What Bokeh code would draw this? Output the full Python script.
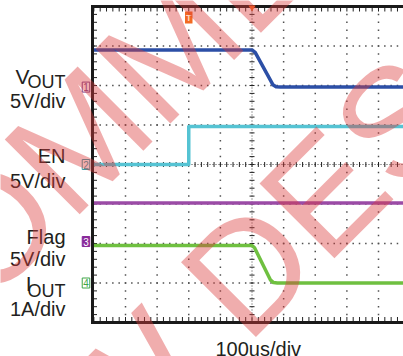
import numpy as np
from bokeh.plotting import figure
from bokeh.models import Label
from bokeh.embed import file_html
from bokeh.resources import INLINE

# ---------------- data (time in us; values in V or A) ----------------
t_vout = [-505, 0, 10, 66, 76, 90, 480]
vout_v = [4.7, 4.7, 4.4, 0.3, 0.05, 0.0, 0.0]
t_en = [-505, -200, -200, 480]
en_v = [0.0, 0.0, 4.8, 4.8]
t_flag = [-505, 480]
flag_v = [4.87, 4.87]
t_iout = [-505, 0, 8, 58, 68, 80, 480]
iout_a = [0.95, 0.95, 0.89, 0.08, 0.01, 0.0, 0.0]

channel_scale = [5.0, 5.0, 5.0, 1.0]        # units per division
channel_offset = [1.96, 0.0, -1.95, -3.0]   # ground level, divisions
channel_colors = ["#2c4fa6", "#55c3d3", "#9b4ba6", "#6fc040"]
marker_texts = ["1", "2", "3", "4"]
marker_colors = ["#7e3e86", "#3a9ca6", "#8a2a9a", "#3fa548"]
marker_filled = [False, False, True, False]
trigger_time = -200
time_per_div = 100
x_label = "100us/div"

# ---------------- layout geometry (canvas pixels) ----------------
W, H = 403, 356
CX, CY = 251.5, 164.0          # screen centre of graticule
PXX, PXY = 31.625, 39.5        # pixels per division


def px2x(px):
    return (px - CX) / PXX * time_per_div


def py2y(py):
    return (CY - py) / PXY


x0, x1 = px2x(0), px2x(W)
y0, y1 = py2y(H), py2y(0)

p = figure(width=W, height=H, x_range=(x0, x1), y_range=(y0, y1),
           output_backend="svg", toolbar_location=None,
           x_axis_location=None, y_axis_location=None,
           min_border_left=0, min_border_right=0,
           min_border_top=0, min_border_bottom=0,
           outline_line_color=None, background_fill_color="white",
           border_fill_color="white")
p.grid.visible = False

# ---------------- graticule ----------------
grid_col = "#505050"
vx = [t for t in range(-400, 401, time_per_div) if t != 0]
ys_fine = np.arange(-4, 3.95, 0.2)
gx, gy = np.meshgrid(vx, ys_fine)
p.scatter(gx.ravel(), gy.ravel(), marker="square", size=1.5,
          fill_color=grid_col, line_color=None)
hy = [y for y in range(-3, 4) if y != 0]
ts_fine = np.arange(-500, 480, 20)
hx, hyy = np.meshgrid(ts_fine, hy)
p.scatter(hx.ravel(), hyy.ravel(), marker="square", size=1.5,
          fill_color=grid_col, line_color=None)

xl, yt, yb = px2x(92), py2y(6), -4.0
# centre lines with ticks
p.line([xl, x1], [0, 0], line_color="#444444", line_width=1, line_dash="1 2")
p.line([0, 0], [yb, yt], line_color="#444444", line_width=1, line_dash="1 2")
p.scatter(np.zeros_like(ys_fine), ys_fine, marker="dash", size=5,
          line_color="#222222", line_width=1)
p.scatter(ts_fine, np.zeros_like(ts_fine, dtype=float), marker="dash", size=5,
          angle=np.pi / 2, line_color="#222222", line_width=1)

# border ticks
p.scatter(np.full_like(ys_fine, px2x(94.5)), ys_fine, marker="dash", size=4,
          line_color="#222222", line_width=1)
p.scatter(ts_fine, np.full(len(ts_fine), py2y(319.0)), marker="dash", size=5,
          angle=np.pi / 2, line_color="#222222", line_width=1)
p.scatter(ts_fine, np.full(len(ts_fine), py2y(9.0)), marker="dash", size=4,
          angle=np.pi / 2, line_color="#222222", line_width=1)

# ---------------- traces ----------------
series_t = [t_vout, t_en, t_flag, t_iout]
series_v = [vout_v, en_v, flag_v, iout_a]
for t, v, sc, off, col in zip(series_t, series_v, channel_scale,
                              channel_offset, channel_colors):
    y = off + np.asarray(v, dtype=float) / sc
    p.line(t, y, line_color=col, line_width=3.5, line_join="round")

# borders (left, top, bottom)
xb0 = px2x(90.5)
p.segment(x0=[xl, xb0, xb0], y0=[py2y(4.5), yt, yb],
          x1=[xl, x1, x1], y1=[py2y(323.5), yt, yb],
          line_color="#1a1a1a", line_width=3)

# trigger markers
p.scatter([0], [py2y(7)], marker="inverted_triangle", size=7,
          fill_color="#f26a22", line_color=None)
p.add_layout(Label(x=trigger_time, y=py2y(17), text="T",
                   text_font="Liberation Sans", text_font_style="bold",
                   text_font_size="9px", text_color="#ffd9c0",
                   text_align="center", text_baseline="middle",
                   background_fill_color="#f26a22", padding=1))

# channel markers
for txt, off, col, filled in zip(marker_texts, channel_offset,
                                 marker_colors, marker_filled):
    p.add_layout(Label(x=px2x(85.5), y=off, text=txt,
                       text_font="Liberation Sans", text_font_size="10px",
                       text_color="white" if filled else col,
                       text_align="center", text_baseline="middle",
                       background_fill_color=col if filled else "white",
                       border_line_color=col, border_line_width=1,
                       padding=1))

# ---------------- text labels ----------------
TXT = "#231f20"
FONT = "Liberation Sans"


def lab(px, py, text, size="20px", align="right"):
    p.add_layout(Label(x=px2x(px), y=py2y(py), text=text, text_font=FONT,
                       text_font_size=size, text_color=TXT,
                       text_align=align, text_baseline="alphabetic"))


lab(29, 76, "V", "21px")
lab(65, 81, "OUT", "18px")
lab(65, 100, "5V/div")
lab(65, 155, "EN")
lab(65, 180, "5V/div")
lab(65, 236, "Flag")
lab(65, 258, "5V/div")
lab(31, 283, "I", "21px")
lab(65, 290, "OUT", "18px")
lab(65, 308, "1A/div")
lab(215, 348, x_label, align="left")

# ---------------- watermark ----------------
WM = dict(angle=np.pi / 4, text_font="Liberation Sans", text_font_size="154px",
          text_color="#dc3c3c", text_alpha=0.42, text_baseline="alphabetic")
p.add_layout(Label(x=px2x(-52), y=py2y(270), text="NOT REC",
                   text_align="right", **WM))
p.add_layout(Label(x=px2x(-52), y=py2y(270), text="OMMENDED",
                   text_align="left", **WM))
p.add_layout(Label(x=px2x(179), y=py2y(339), text="FOR NEW",
                   text_align="right", **WM))
p.add_layout(Label(x=px2x(209), y=py2y(308), text="DESIGNS",
                   text_align="left", **WM))

open("out.html", "w").write(file_html(p, INLINE))
